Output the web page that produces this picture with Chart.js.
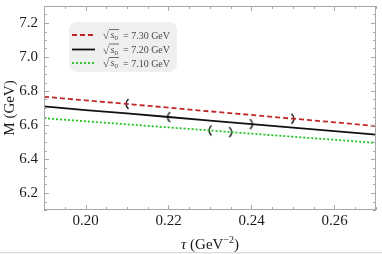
<!DOCTYPE html>
<html><head><meta charset="utf-8">
<script src="https://cdn.jsdelivr.net/npm/chart.js@4/dist/chart.umd.min.js"></script>
<style>html,body{margin:0;padding:0;background:#fff}#wrap{width:382px;height:254px;position:relative}</style>
</head><body><div id="wrap"><canvas id="c" width="382" height="254"></canvas></div>
<script>
const tau = [0.19, 0.20, 0.21, 0.22, 0.23, 0.24, 0.25, 0.26, 0.27];
const m730 = [6.766, 6.745, 6.724, 6.702, 6.680, 6.659, 6.637, 6.616, 6.594];
const m720 = [6.709, 6.688, 6.668, 6.647, 6.626, 6.605, 6.584, 6.564, 6.543];
const m710 = [6.640, 6.622, 6.604, 6.586, 6.568, 6.549, 6.531, 6.513, 6.495];
const seriesLabels = ['7.30 GeV', '7.20 GeV', '7.10 GeV'];
const windowLeftTau = [0.21, 0.22, 0.23];
const windowLeftM = [6.724, 6.647, 6.568];
const windowRightTau = [0.25, 0.24, 0.235];
const windowRightM = [6.637, 6.605, 6.558];
const xTicks = [0.20, 0.22, 0.24, 0.26];
const yTicks = [6.2, 6.4, 6.6, 6.8, 7.0, 7.2];
const xRange = [0.19, 0.27];
const yRange = [6.1, 7.3];

const colors = ['#c0262b', '#111111', '#22c322'];
const dashes = [[5, 3], [], [2, 2]];

function bracket(open) {
  const c = document.createElement('canvas');
  c.width = 8; c.height = 14;
  const g = c.getContext('2d');
  g.strokeStyle = '#222'; g.lineWidth = 1.5;
  g.beginPath();
  if (open) { g.moveTo(5.5, 2); g.quadraticCurveTo(0.5, 7, 5.5, 12); }
  else { g.moveTo(2.5, 2); g.quadraticCurveTo(7.5, 7, 2.5, 12); }
  g.stroke();
  return c;
}
const openImg = bracket(true), closeImg = bracket(false);

const series = [m730, m720, m710];
const datasets = series.map((arr, i) => ({
  label: seriesLabels[i],
  data: tau.map((t, j) => ({x: t, y: arr[j]})),
  borderColor: colors[i], borderWidth: 1.8, borderDash: dashes[i],
  pointRadius: 0, fill: false, tension: 0
}));
datasets.push({
  label: 'left', type: 'scatter', showLine: false,
  data: windowLeftTau.map((t, j) => ({x: t, y: windowLeftM[j]})),
  pointStyle: openImg, pointRadius: 5
});
datasets.push({
  label: 'right', type: 'scatter', showLine: false,
  data: windowRightTau.map((t, j) => ({x: t, y: windowRightM[j]})),
  pointStyle: closeImg, pointRadius: 5
});

const framePlugin = {
  id: 'frame',
  afterDraw(chart) {
    const {ctx, chartArea: a, scales: {x, y}} = chart;
    ctx.save();
    ctx.fillStyle = '#f4f4f4'; ctx.fillRect(0, 252, 382, 2);
    ctx.fillStyle = '#dcdcdc'; ctx.fillRect(0, 252, 382, 1);

    ctx.strokeStyle = '#a8a8a8'; ctx.lineWidth = 1;
    ctx.strokeRect(a.left + 0.5, a.top + 0.5, a.right - a.left - 1, a.bottom - a.top - 1);
    ctx.beginPath();
    for (let k = 0; k <= 16; k++) {
      const v = xRange[0] + k * 0.005;
      const px = Math.round(x.getPixelForValue(v)) + 0.5;
      const major = xTicks.some(t => Math.abs(t - v) < 1e-6);
      const len = major ? 5 : 3;
      ctx.moveTo(px, a.bottom); ctx.lineTo(px, a.bottom - len);
      ctx.moveTo(px, a.top); ctx.lineTo(px, a.top + len);
    }
    for (let k = 0; k <= 24; k++) {
      const v = yRange[0] + k * 0.05;
      const py = Math.round(y.getPixelForValue(v)) + 0.5;
      const major = yTicks.some(t => Math.abs(t - v) < 1e-6);
      const len = major ? 5 : 3;
      ctx.moveTo(a.left, py); ctx.lineTo(a.left + len, py);
      ctx.moveTo(a.right, py); ctx.lineTo(a.right - len, py);
    }
    ctx.stroke();

    ctx.fillStyle = '#1a1a1a';
    ctx.textBaseline = 'middle';
    ctx.font = '15px "Liberation Serif"';
    ctx.save();
    ctx.translate(10, (a.top + a.bottom) / 2);
    ctx.rotate(-Math.PI / 2);
    ctx.textAlign = 'center';
    ctx.fillText('M (GeV)', 0, 0);
    ctx.restore();
    const cx = (a.left + a.right) / 2, ty = 245;
    ctx.textAlign = 'left';
    const p1 = 'τ', p2 = ' (GeV', p3 = '−2', p4 = ')';
    ctx.font = 'italic 15px "Liberation Serif"'; const w1 = ctx.measureText(p1).width;
    ctx.font = '15px "Liberation Serif"'; const w2 = ctx.measureText(p2).width; const w4 = ctx.measureText(p4).width;
    ctx.font = '10px "Liberation Serif"'; const w3 = ctx.measureText(p3).width;
    let sx = cx - (w1 + w2 + w3 + w4) / 2;
    ctx.font = 'italic 15px "Liberation Serif"'; ctx.fillText(p1, sx, ty); sx += w1;
    ctx.font = '15px "Liberation Serif"'; ctx.fillText(p2, sx, ty); sx += w2;
    ctx.font = '10px "Liberation Serif"'; ctx.fillText(p3, sx, ty - 5); sx += w3;
    ctx.font = '15px "Liberation Serif"'; ctx.fillText(p4, sx, ty);

    const bx = 69, by = 22, bw = 108, bh = 50, r = 8;
    ctx.fillStyle = '#efefef';
    ctx.beginPath();
    ctx.roundRect(bx, by, bw, bh, r);
    ctx.fill();
    const rows = [35, 49.5, 63];
    rows.forEach((ry, i) => {
      ctx.strokeStyle = colors[i]; ctx.lineWidth = 1.8;
      ctx.setLineDash(dashes[i]);
      ctx.beginPath(); ctx.moveTo(72, ry); ctx.lineTo(95, ry); ctx.stroke();
      ctx.setLineDash([]);
      ctx.fillStyle = '#4a4a4a';
      ctx.textAlign = 'left'; ctx.textBaseline = 'alphabetic';
      ctx.font = '11px "Liberation Serif"';
      ctx.fillText('√', 103, ry + 4);
      ctx.strokeStyle = '#4a4a4a'; ctx.lineWidth = 0.8;
      ctx.beginPath(); ctx.moveTo(109, ry - 5.5); ctx.lineTo(119, ry - 5.5); ctx.stroke();
      ctx.font = 'italic 10px "Liberation Serif"';
      ctx.fillText('s', 110.5, ry + 3);
      ctx.font = '7px "Liberation Serif"';
      ctx.fillText('0', 114.5, ry + 5);
      ctx.font = '10px "Liberation Serif"';
      ctx.fillText('= ' + seriesLabels[i], 123, ry + 3.5);
    });
    ctx.restore();
  }
};

function noPad(s) { s.paddingTop = 0; s.paddingBottom = 0; s.paddingLeft = 0; s.paddingRight = 0; }

new Chart(document.getElementById('c'), {
  type: 'line',
  data: {datasets},
  options: {
    responsive: false, animation: false,
    layout: {padding: {top: 1, right: 1, left: 0, bottom: 0}},
    plugins: {legend: {display: false}, tooltip: {enabled: false}},
    scales: {
      x: {
        type: 'linear', min: xRange[0], max: xRange[1],
        grid: {display: false, drawTicks: false}, border: {display: false},
        afterBuildTicks: s => { s.ticks = xTicks.map(v => ({value: v})); },
        afterFit: s => { s.height = 44; noPad(s); },
        ticks: {color: '#1a1a1a', font: {family: 'Liberation Serif', size: 15}, padding: 2,
          callback: v => v.toFixed(2), maxRotation: 0}
      },
      y: {
        type: 'linear', min: yRange[0], max: yRange[1],
        grid: {display: false, drawTicks: false}, border: {display: false},
        afterBuildTicks: s => { s.ticks = yTicks.map(v => ({value: v})); },
        afterFit: s => { s.width = 44; noPad(s); },
        ticks: {color: '#1a1a1a', font: {family: 'Liberation Serif', size: 15}, padding: 6,
          callback: v => v.toFixed(1)}
      }
    }
  },
  plugins: [framePlugin]
});
</script></body></html>
